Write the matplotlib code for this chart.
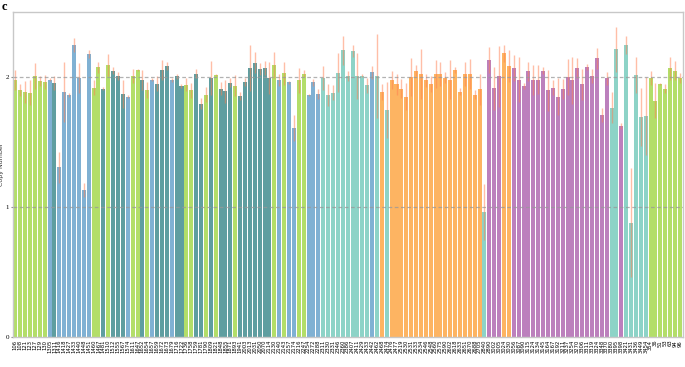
import matplotlib
matplotlib.use("Agg")
import matplotlib.pyplot as plt
import numpy as np

labels = ["106","108","121","123","127","129","130","1305","1311","1416",
          "1418","1427","1433","1440","1448","1451","1460","1467","1481","1510",
          "1512","1555","1567","1574","1611","1647","1652","1654","1657","1659",
          "1672","1673","1679","1716","1722","1736","1758","1759","1781","1790",
          "1809","1821","1848","1855","1871","1893","1941","2003","2013","2031",
          "2050","2070","2114","2130","2140","2143","2157","2174","2216","2247",
          "2254","2272","2288","2311","2330","2331","2346","2360","2386","2407",
          "2411","2429","2433","2442","2462","2468","2474","2476","2477","2519",
          "2530","2531","2533","2534","2546","2548","2560","2575","2590","2602",
          "2618","2633","2651","2670","2688","2705","2840","2890","3002","3005",
          "3024","3030","3056","3087","3090","3115","3124","3134","3145","3164",
          "3167","3192","3211","3237","3254","3270","3306","3311","3319","3324",
          "3348","3370","3380","3395","3398","3421","3431","3436","3449","3454",
          "354","36","51","53","63","94","96"]

values = [1.98,1.90,1.885,1.88,2.005,1.97,1.96,1.98,1.955,1.305,
          1.885,1.86,2.246,1.995,1.128,2.177,1.918,2.075,1.91,2.09,
          2.05,2.008,1.87,1.85,2.005,2.056,1.977,1.90,1.98,1.95,
          2.054,2.087,1.975,2.005,1.93,1.94,1.897,2.026,1.795,1.864,
          1.992,2.015,1.908,1.89,1.956,1.933,1.854,1.964,2.072,2.11,
          2.064,2.072,1.992,2.092,1.98,2.028,1.96,1.608,1.975,2.026,
          1.862,1.96,1.87,1.995,1.862,1.88,2.033,2.205,2.01,2.20,
          2.008,2.01,1.936,2.038,2.008,1.885,1.746,1.977,1.944,1.91,
          1.848,2.003,2.05,2.023,1.975,1.944,2.023,2.023,1.995,1.977,
          2.056,1.887,2.023,2.023,1.864,1.905,0.962,2.128,1.915,2.005,
          2.182,2.084,2.069,1.98,1.928,2.044,1.977,1.98,2.05,1.897,
          1.918,1.85,1.91,2.0,1.975,2.069,1.944,2.077,2.008,2.144,
          1.708,1.99,1.764,2.213,1.626,2.249,0.879,2.015,1.692,1.703,
          1.995,1.818,1.944,1.91,2.067,2.05,1.995]

errors = [0.077,0.046,0.085,0.097,0.10,0.04,0.056,0.01,0.056,0.12,
          0.233,0.015,0.054,0.115,0.054,0.03,0.06,0.044,0.01,0.085,
          0.026,0.03,0.11,0.01,0.054,0.008,0.074,0.064,0.01,0.06,
          0.08,0.03,0.015,0.018,0.013,0.05,0.06,0.033,0.04,0.056,
          0.13,0.005,0.05,0.087,0.033,0.08,0.033,0.03,0.177,0.08,
          0.046,0.054,0.123,0.10,0.046,0.087,0.01,0.097,0.097,0.026,
          0.005,0.026,0.04,0.092,0.085,0.06,0.15,0.11,0.04,0.044,
          0.18,0.01,0.06,0.05,0.32,0.06,0.215,0.07,0.08,0.074,
          0.105,0.146,0.04,0.19,0.05,0.06,0.11,0.095,0.04,0.15,
          0.023,0.026,0.095,0.115,0.036,0.12,0.215,0.10,0.165,0.236,
          0.064,0.126,0.10,0.174,0.023,0.072,0.115,0.11,0.028,0.16,
          0.06,0.146,0.077,0.14,0.18,0.08,0.118,0.02,0.054,0.082,
          0.056,0.05,0.118,0.174,0.023,0.07,0.418,0.136,0.22,0.30,
          0.054,0.133,0.008,0.036,0.09,0.07,0.038]

groups = list("GGGGGGGBTBBBBBBBGGTGTTTBGGT"
              "GBTTTBTTGGTTGTGTTTGTTTTTTTG"
              "BGBBGGBBB" "AAAAAAAAAA" "BAOA" "OOOOOOOOOOOOOOOOOOO" "A" "PPP" "OO"
              "PPPPPPPPPPPPPPPPPPPP" "AAPAAAAA" "GGGGGGG")

group_colors = {"G": "#b3de69", "B": "#80b1d3", "T": "#5f9ea0",
                "A": "#8dd3c7", "O": "#fdb462", "P": "#bc80bd"}

fig = plt.figure(figsize=(6.85, 3.67), dpi=100)
ax = fig.add_axes([0.0185, 0.0817, 0.978, 0.8856])

x = np.arange(len(values))
cols = [group_colors[g] for g in groups]
ax.bar(x, values, width=0.82, color=cols, edgecolor="none", zorder=2)
ax.errorbar(x, values, yerr=errors, fmt="none", ecolor="#ff7f50",
            alpha=0.5, elinewidth=1.0, capsize=0, zorder=3)

ax.set_xlim(-0.55, len(values) - 0.45)
ax.set_ylim(0, 2.5)
ax.set_yticks([0, 1, 2])
ax.set_yticklabels(["0", "1", "2"], fontsize=5, family="Liberation Serif")
for yv in [1, 2]:
    ax.axhline(yv, color="#999999", alpha=0.75, linestyle=(0, (3, 2)),
               linewidth=0.9, zorder=4)

ax.set_xticks(x)
ax.set_xticklabels(labels, rotation=90, fontsize=3.8, va="top", ha="center")
ax.tick_params(axis="x", length=0, pad=2)
ax.tick_params(axis="y", length=1.5, pad=1, color="#888888")
ax.set_ylabel("Copy Number", fontsize=4.5, color="#333333")
ax.yaxis.set_label_coords(-0.0125, 0.53)

for s in ax.spines.values():
    s.set_color("#c8c8c8")
    s.set_linewidth(1.0)

fig.text(0.002, 0.998, "c", fontsize=9, fontweight="bold",
         family="Liberation Serif", va="top", ha="left")

fig.savefig("out.png", dpi=100)
